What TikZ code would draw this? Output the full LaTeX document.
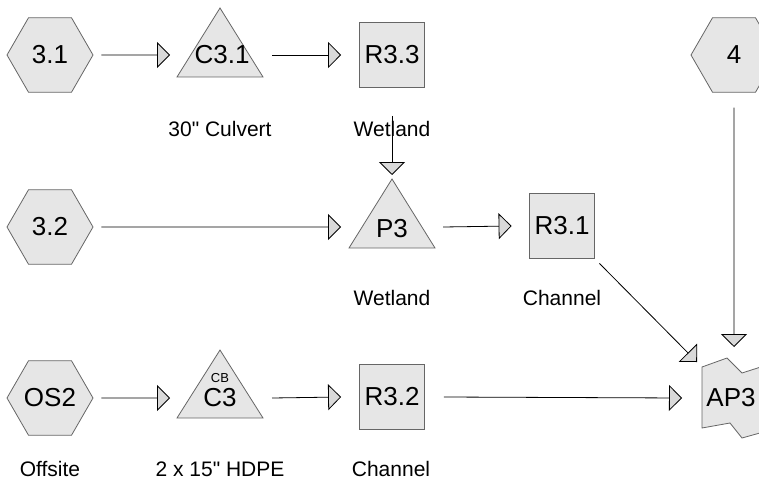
\documentclass[tikz,border=0pt]{standalone}
\usepackage{fontspec}
\setmainfont{Liberation Sans}[Ligatures=TeXOff]
\usetikzlibrary{arrows.meta,shapes.geometric}
\definecolor{shapefill}{HTML}{E6E6E6}
\definecolor{shapeline}{HTML}{666666}
\definecolor{tipfill}{HTML}{D9D9D9}
\begin{document}
\begin{tikzpicture}[x=1pt,y=-1pt,
  hexnode/.style={regular polygon, regular polygon sides=6, minimum size=86pt, inner sep=0pt,
    draw=shapeline, fill=shapefill, line width=0.8pt, font=\fontsize{26}{30}\selectfont},
  sqnode/.style={rectangle, minimum size=65pt, inner sep=0pt,
    draw=shapeline, fill=shapefill, line width=0.8pt, font=\fontsize{26}{30}\selectfont},
  shp/.style={draw=shapeline, fill=shapefill, line width=0.8pt},
  txt/.style={font=\fontsize{26}{30}\selectfont, inner sep=0pt},
  small/.style={font=\fontsize{13}{15}\selectfont, inner sep=0pt},
  lbl/.style={font=\fontsize{21}{25}\selectfont, inner sep=0pt},
  flow/.style={line width=0.8pt, -{Triangle[length=13pt,width=26pt,fill=tipfill]}},
]
\useasboundingbox (0,0) rectangle (759,481);
\clip (0,0) rectangle (759,481);

% hexagons
\node[hexnode] (h31) at (50,55) {3.1};
\node[hexnode] (h32) at (50,227) {3.2};
\node[hexnode] (hos2) at (50,398) {OS2};
\node[hexnode] (h4) at (734,55) {4};

% squares
\node[sqnode] (r33) at (392,55) {R3.3};
\node[sqnode] (r31) at (562,226) {R3.1};
\node[sqnode] (r32) at (392,397) {R3.2};

% triangles
\coordinate (c31) at (220,55);
\coordinate (p3) at (392,227);
\coordinate (c3) at (220,398);
\draw[shp] ([shift={(-43,22)}]c31) -- ([shift={(43,22)}]c31) -- ([shift={(0,-47)}]c31) -- cycle;
\draw[shp] ([shift={(-43,21)}]p3) -- ([shift={(43,21)}]p3) -- ([shift={(0,-48)}]p3) -- cycle;
\draw[shp] ([shift={(-43,20)}]c3) -- ([shift={(43,20)}]c3) -- ([shift={(0,-48)}]c3) -- cycle;
\node[txt] (c31t) at ([shift={(2,0)}]c31) {C3.1};
\node[txt] (p3t) at ([shift={(0,2)}]p3) {P3};
\node[small] (c3cb) at ([shift={(0,-20)}]c3) {CB};
\node[txt] (c3t) at ([shift={(0,0)}]c3) {C3};

% AP3 shape
\coordinate (ap3) at (734,398);
\draw[shp] ([shift={(-32,-31)}]ap3) -- ([shift={(-7,-40)}]ap3) -- ([shift={(8,-25)}]ap3)
  -- ([shift={(33,-33)}]ap3) -- ([shift={(33,33)}]ap3) -- ([shift={(8,40)}]ap3)
  -- ([shift={(-4,25)}]ap3) -- ([shift={(-32,30)}]ap3) -- cycle;
\node[txt] (ap3t) at ([shift={(-3,0)}]ap3) {AP3};

% labels
\node[lbl] (l1) at (220,129) {30" Culvert};
\node[lbl] (l2) at (392,129) {Wetland};
\node[lbl] (l3) at (392,298) {Wetland};
\node[lbl] (l4) at (562,298) {Channel};
\node[lbl] (l5) at (50,469) {Offsite};
\node[lbl] (l6) at (220,469) {2 x 15" HDPE};
\node[lbl] (l7) at (391,469) {Channel};

% connectors
\draw[flow] ([shift={(8,0)}]h31.east) -- ([shift={(-50,0)}]c31);
\draw[flow] ([shift={(52,0)}]c31) -- ([shift={(-18,0)}]r33.west);
\draw[flow] ([shift={(0,28)}]r33.south) -- ([shift={(0,-52)}]p3);
\draw[flow] ([shift={(8,0)}]h32.east) -- ([shift={(-51,0)}]p3);
\draw[flow] ([shift={(51,0)}]p3) -- ([shift={(-17.5,0)}]r31.west);
\draw[flow] ([shift={(4.5,4.5)}]r31.south east) -- ([shift={(-37,-36)}]ap3);
\draw[flow] ([shift={(0,15)}]h4.south) -- ([shift={(0,-51)}]ap3);
\draw[flow] ([shift={(8,0)}]hos2.east) -- ([shift={(-50,0)}]c3);
\draw[flow] ([shift={(52,0)}]c3) -- ([shift={(-18,0)}]r32.west);
\draw[flow] ([shift={(19,0)}]r32.east) -- ([shift={(-52,0)}]ap3);
\end{tikzpicture}
\end{document}
